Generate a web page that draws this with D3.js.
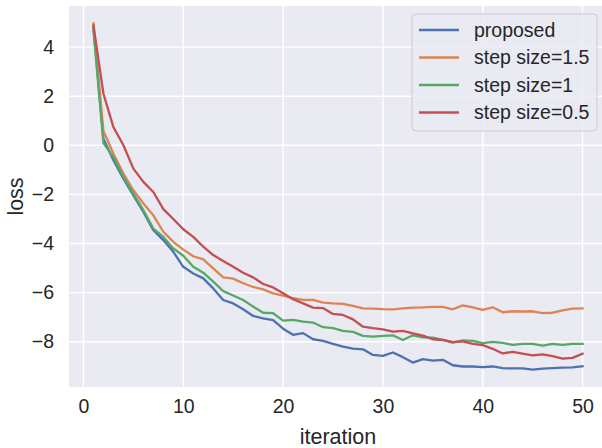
<!DOCTYPE html>
<html>
<head>
<meta charset="utf-8">
<script src="https://cdn.jsdelivr.net/npm/d3@7"></script>
<style>
  body { margin: 0; background: #fff; }
  text { font-family: "Liberation Sans", Arial, sans-serif; fill: #262626; }
</style>
</head>
<body>
<svg id="chart" width="602" height="448"></svg>
<script>
// loss per iteration
var iterations = d3.range(1, 51);
var series_names = ["proposed", "step size=1.5", "step size=1", "step size=0.5"];
var series_colors = ["#4c72b0", "#dd8452", "#55a868", "#c44e52"];

var proposed = [4.8, 0.27, -0.61, -1.36, -2.04, -2.71, -3.46, -3.86, -4.34, -4.95,
  -5.22, -5.42, -5.83, -6.3, -6.44, -6.68, -6.95, -7.05, -7.12, -7.47,
  -7.72, -7.65, -7.9, -7.97, -8.09, -8.2, -8.28, -8.31, -8.54, -8.58,
  -8.44, -8.63, -8.85, -8.71, -8.77, -8.74, -8.96, -9.01, -9.01, -9.04,
  -9.01, -9.08, -9.09, -9.09, -9.14, -9.1, -9.08, -9.06, -9.05, -9.0];
var step_1_5 = [4.97, 0.58, -0.34, -1.15, -1.83, -2.37, -2.85, -3.52, -3.93, -4.25,
  -4.52, -4.65, -5.01, -5.38, -5.43, -5.62, -5.77, -5.87, -6.03, -6.12,
  -6.23, -6.3, -6.3, -6.41, -6.44, -6.46, -6.54, -6.64, -6.65, -6.67,
  -6.68, -6.64, -6.61, -6.6, -6.58, -6.58, -6.68, -6.52, -6.6, -6.7,
  -6.6, -6.8, -6.76, -6.77, -6.76, -6.84, -6.82, -6.72, -6.65, -6.64];
var step_1 = [4.7, 0.09, -0.48, -1.29, -1.97, -2.64, -3.39, -3.73, -4.2, -4.5,
  -4.95, -5.19, -5.55, -5.94, -6.12, -6.3, -6.57, -6.82, -6.84, -7.14,
  -7.11, -7.18, -7.22, -7.41, -7.45, -7.56, -7.6, -7.76, -7.79, -7.76,
  -7.74, -7.93, -7.74, -7.82, -7.83, -7.93, -8.04, -7.95, -7.97, -8.06,
  -8.01, -8.05, -8.13, -8.09, -8.09, -8.16, -8.09, -8.13, -8.09, -8.09];
var step_0_5 = [4.88, 2.1, 0.74, 0.0, -0.95, -1.49, -1.9, -2.6, -3.0, -3.42,
  -3.73, -4.13, -4.47, -4.71, -4.95, -5.19, -5.38, -5.65, -5.79, -6.03,
  -6.27, -6.44, -6.61, -6.63, -6.87, -6.91, -7.09, -7.39, -7.45, -7.5,
  -7.59, -7.56, -7.66, -7.75, -7.9, -7.93, -8.02, -7.99, -8.09, -8.14,
  -8.29, -8.48, -8.41, -8.49, -8.56, -8.52, -8.59, -8.69, -8.66, -8.49];

var x_ticks = [0, 10, 20, 30, 40, 50];
var y_ticks = [4, 2, 0, -2, -4, -6, -8];

var all_series = [proposed, step_1_5, step_1, step_0_5];

svg = d3.select("#chart");
var plot = {left: 69, right: 607, top: 6, bottom: 387};
var tick_font = "19.5px";

// matplotlib style 5% margins round the data
var x = d3.scaleLinear()
  .domain([1 - 49 * 0.05, 50 + 49 * 0.05])
  .range([plot.left, plot.right]);

var ymin = d3.min(all_series, function(s) { return d3.min(s); });
var ymax = d3.max(all_series, function(s) { return d3.max(s); });
var ypad = (ymax - ymin) * 0.05;
var y = d3.scaleLinear()
  .domain([ymin - ypad, ymax + ypad])
  .range([plot.bottom, plot.top]);

svg.append("rect")
  .attr("x", plot.left)
  .attr("y", plot.top)
  .attr("width", plot.right - plot.left)
  .attr("height", plot.bottom - plot.top)
  .attr("fill", "#eaeaf2");

// grid lines (white, seaborn darkgrid)
var grid = svg.append("g");
grid.selectAll(".vgrid")
  .data(x_ticks)
  .enter()
  .append("line")
    .attr("x1", function(d) { return x(d) })
    .attr("x2", function(d) { return x(d) })
    .attr("y1", plot.top)
    .attr("y2", plot.bottom)
    .attr("stroke", "#fff")
    .attr("stroke-width", 1.4);
grid.selectAll(".hgrid")
  .data(y_ticks)
  .enter()
  .append("line")
    .attr("x1", plot.left)
    .attr("x2", plot.right)
    .attr("y1", function(d) { return y(d) })
    .attr("y2", function(d) { return y(d) })
    .attr("stroke", "#fff")
    .attr("stroke-width", 1.4);

// axes, no tick marks, no domain line
var xAxis = svg.append("g")
  .attr("transform", "translate(0," + plot.bottom + ")")
  .call(d3.axisBottom(x).tickValues(x_ticks).tickSize(0).tickPadding(12));
var yAxis = svg.append("g")
  .attr("transform", "translate(" + plot.left + ",0)")
  .call(d3.axisLeft(y).tickValues(y_ticks).tickSize(0).tickPadding(15)
    .tickFormat(function(d) { return d < 0 ? "\u2212" + Math.abs(d) : d; }));
svg.selectAll(".domain").remove();
svg.selectAll(".tick text")
  .attr("font-size", tick_font)
  .attr("font-family", "Liberation Sans, Arial, sans-serif")
  .attr("fill", "#262626");

svg.append("text")
  .attr("x", (plot.left + plot.right) / 2)
  .attr("y", 444)
  .attr("text-anchor", "middle")
  .attr("font-size", "21.5px")
  .text("iteration");

svg.append("text")
  .attr("transform", "translate(23," + ((plot.top + plot.bottom) / 2) + ") rotate(-90)")
  .attr("text-anchor", "middle")
  .attr("font-size", "21.5px")
  .text("loss");

// one line per series
var lossline = d3.line()
  .x(function(d, i) { return x(iterations[i]) })
  .y(function(d) { return y(d) });

svg.selectAll(".series")
  .data(all_series)
  .enter()
  .append("path")
    .attr("class", "series")
    .attr("fill", "none")
    .attr("stroke", function(d, i) { return series_colors[i] })
    .attr("stroke-width", 2.3)
    .attr("stroke-linejoin", "round")
    .attr("stroke-linecap", "square")
    .attr("d", lossline);

// legend
var legend = svg.append("g").attr("transform", "translate(412,14)");
legend.append("rect")
  .attr("width", 185)
  .attr("height", 117)
  .attr("rx", 4)
  .attr("fill", "#eaeaf2")
  .attr("fill-opacity", 0.8)
  .attr("stroke", "#cccccc")
  .attr("stroke-width", 1);

var rows = legend.selectAll(".row")
  .data(series_names)
  .enter()
  .append("g")
    .attr("transform", function(d, i) { return "translate(0," + (16 + i * 27.5) + ")" });
rows.append("line")
  .attr("x1", 7)
  .attr("x2", 47)
  .attr("stroke", function(d, i) { return series_colors[i] })
  .attr("stroke-width", 2.3);
rows.append("text")
  .attr("x", 62)
  .attr("dy", "0.35em")
  .attr("font-size", tick_font)
  .text(function(d) { return d });
</script>
</body>
</html>
